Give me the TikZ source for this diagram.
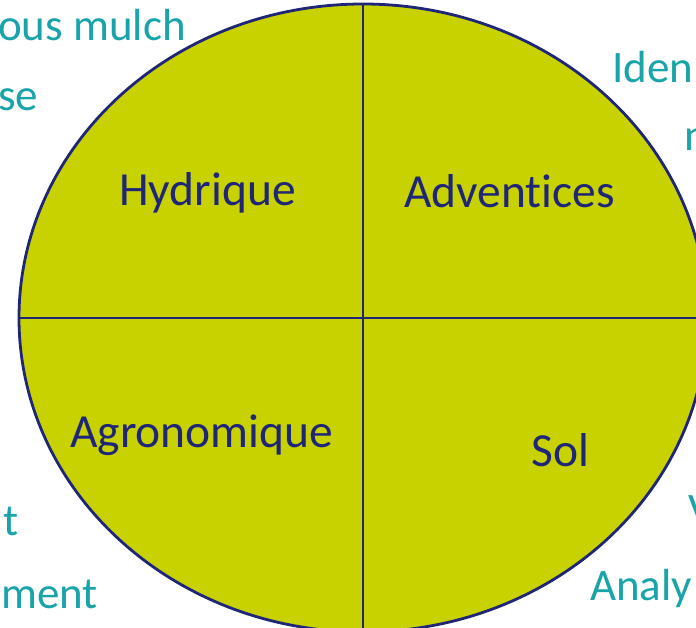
\documentclass[tikz,border=0pt]{standalone}
\usepackage{fontspec}
\setmainfont[Ligatures=NoCommon]{Carlito}
\usetikzlibrary{shapes.geometric}
\definecolor{fillgreen}{RGB}{200,210,0}
\definecolor{navy}{RGB}{31,38,120}
\definecolor{teal}{RGB}{24,164,168}
\tikzset{
  quadlabel/.style={anchor=base west, inner sep=0pt, text=navy, font=\fontsize{47.5}{50}\selectfont},
  sidelabel/.style={anchor=base west, inner sep=0pt, text=teal, font=\fontsize{45}{48}\selectfont},
}
\begin{document}
\begin{tikzpicture}[x=1pt,y=-1pt]
\useasboundingbox (0,0) rectangle (696,627);
\clip (0,0) rectangle (696,627);
\node[ellipse, draw=navy, line width=2.8pt, fill=fillgreen, minimum width=688pt, minimum height=628pt, inner sep=0pt, outer sep=0pt] (wheel) at (363,318) {};
\draw[navy, line width=2.4pt] (wheel.north) -- (wheel.south);
\draw[navy, line width=2.4pt] (wheel.west) -- (wheel.east);
\node[quadlabel] (hyd) at (119,205) {Hydrique};
\node[quadlabel] (adv) at (404,207) {Adventices};
\node[quadlabel] (agr) at (70,447) {Agronomique};
\node[quadlabel] (sol) at (531,466) {Sol};
\node[sidelabel] (s1) at (-2,40) {ous mulch};
\node[sidelabel] (s2) at (-2,110) {se};
\node[sidelabel] (s3) at (612,82) {Iden};
\node[sidelabel] (s4) at (684,150) {n};
\node[sidelabel] (s5) at (3,535) {t};
\node[sidelabel] (s6) at (1,608) {ment};
\node[sidelabel] (s7) at (688,524) {V};
\node[sidelabel] (s8) at (590,600) {Analy};
\end{tikzpicture}
\end{document}
